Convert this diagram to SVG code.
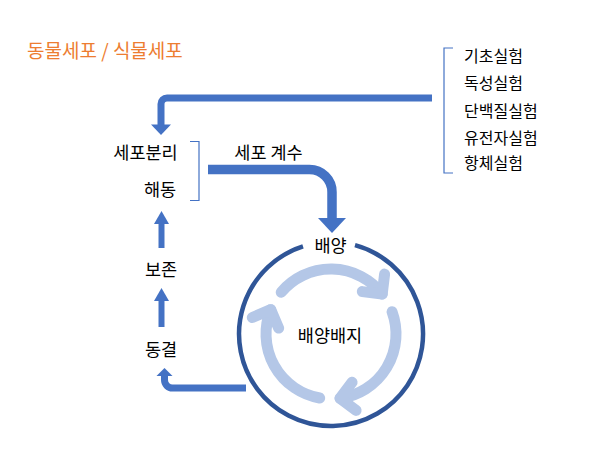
<svg xmlns="http://www.w3.org/2000/svg" xmlns:xlink="http://www.w3.org/1999/xlink" width="593" height="458" viewBox="0 0 593 458">
<style>
text{font-family:"Malgun Gothic","Noto Sans CJK KR","Noto Sans",sans-serif;fill:#000;}
.lbl{font-size:17.5px;text-anchor:middle;}
.lst{font-size:16px;}
.ttl{font-size:19px;fill:#ED7D31;}
.shaft{fill:none;stroke:#4472C4;stroke-linecap:butt;}
.head{fill:#4472C4;}
.brk{fill:none;stroke:#4472C4;stroke-width:1.2;}
.cyc{fill:none;stroke:#B4C7E7;stroke-width:11;stroke-linecap:round;stroke-linejoin:round;}
</style>
<defs>
<g id="cycArrow">
<path class="cyc" d="M281.2,292.2 A65,65 0 0 1 382.2,294.0"/>
<path class="cyc" d="M384.6,274.1 L382.2,294.0 L362.3,291.6"/>
</g>
</defs>
<rect width="593" height="458" fill="#fff"/>

<g id="title"><text class="ttl" x="27" y="58">동물세포 / 식물세포</text></g>

<g id="tests">
<path class="brk" d="M453,48 H444 V173 H453"/>
<text class="lst" x="464" y="62">기초실험</text>
<text class="lst" x="464" y="89">독성실험</text>
<text class="lst" x="464" y="117">단백질실험</text>
<text class="lst" x="464" y="144">유전자실험</text>
<text class="lst" x="464" y="169">항체실험</text>
</g>

<g id="sep">
<text class="lbl" x="145.5" y="159">세포분리</text>
<text class="lbl" x="160" y="195.5">해동</text>
<path class="brk" d="M190,141.5 H199 V200.5 H190"/>
</g>

<g id="count"><text class="lbl" x="268.5" y="158.5">세포 계수</text></g>
<g id="store"><text class="lbl" x="161" y="276">보존</text></g>
<g id="freeze"><text class="lbl" x="161" y="356">동결</text></g>

<g id="culture">
<path d="M355,245.2 A92,92 0 1 1 303,246.4" fill="none" stroke="#2F5597" stroke-width="4.5"/>
<text class="lbl" x="330.5" y="251.5">배양</text>
<use xlink:href="#cycArrow"/>
<use xlink:href="#cycArrow" transform="rotate(120 331 334)"/>
<use xlink:href="#cycArrow" transform="rotate(240 331 334)"/>
<text class="lbl" x="330" y="341.5">배양배지</text>
</g>

<g id="connectors">
<path class="shaft" stroke-width="7" d="M432,98 H167 A6,6 0 0 0 161,104 V125"/>
<polygon class="head" points="151,124.5 171,124.5 161,135"/>
<path class="shaft" stroke-width="9.5" d="M208,169.5 H309.5 A22.5,22.5 0 0 1 332,192 V218.5"/>
<polygon class="head" points="318,218 346,218 332,233"/>
<path class="shaft" stroke-width="6" d="M161.5,248 V223"/>
<polygon class="head" points="154,224 169,224 161.5,211"/>
<path class="shaft" stroke-width="6" d="M161.5,327 V300"/>
<polygon class="head" points="154,301 169,301 161.5,288"/>
<path class="shaft" stroke-width="7" d="M246,388 H172.5 A8,8 0 0 1 164.5,380 V375.5"/>
<polygon class="head" points="156.5,376 172.5,376 164.5,368"/>
</g>
</svg>
